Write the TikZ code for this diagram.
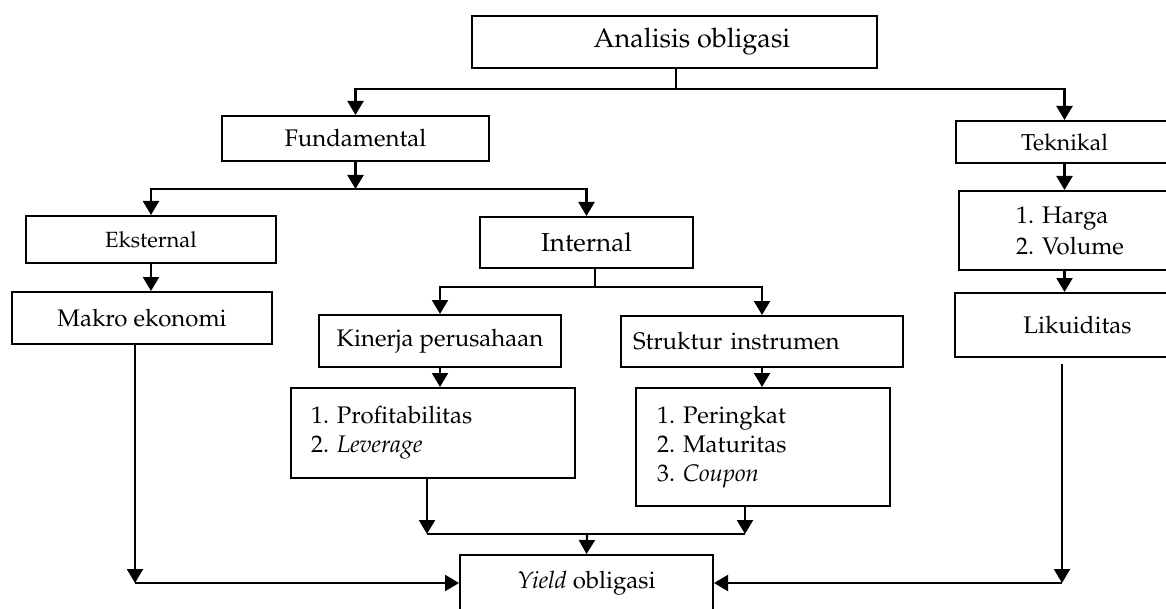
\documentclass[tikz,border=0pt]{standalone}
\usepackage[T1]{fontenc}
\usepackage{mathpazo}
\usetikzlibrary{positioning,arrows.meta}
\frenchspacing

\begin{document}
\begin{tikzpicture}[x=0.5pt,y=-0.5pt,
		kotak/.style={rectangle, draw=black, line width=1pt, inner sep=0pt, font=\fontsize{12}{14.5}\selectfont},
		panah/.style={line width=1.1pt, -{Triangle[width=8pt,length=7pt]}},
		garis/.style={line width=1pt}]
		\useasboundingbox (0,0) rectangle (1166,609);
		
		\node[kotak, font=\fontsize{13.5}{16}\selectfont, minimum width=202.5pt, minimum height=26pt] (analisis) at (674.5,42) {\hspace*{17.5pt}Analisis obligasi};
		\node[kotak, minimum width=133.5pt, minimum height=22.5pt] (fundamental) at (355.5,138.5) {Fundamental};
		\node[kotak, font=\fontsize{11.5}{14}\selectfont, minimum width=108.5pt, minimum height=21pt] (teknikal) at (1064.5,142) {Teknikal};
		\node[kotak, font=\fontsize{11}{13}\selectfont, minimum width=125pt, minimum height=23.5pt] (eksternal) at (151,239.5) {Eksternal};
		\node[kotak, font=\fontsize{13}{16}\selectfont, minimum width=106.5pt, minimum height=25.5pt] (internal) at (586.5,242.5) {Internal};
		\node[kotak, minimum width=130pt, minimum height=26pt] (makro) at (142,318) {Makro ekonomi};
		\node[kotak, minimum width=121pt, minimum height=26pt] (kinerja) at (440,341) {Kinerja perusahaan};
		\node[kotak, align=left, inner xsep=6pt, text width=129pt, minimum height=25.5pt] (struktur) at (762,341.5) {Struktur instrumen};
		\node[kotak, align=left, inner xsep=10pt, text width=122pt, minimum height=45pt] (profit) at (433,433) {1. Profitabilitas\\2. \textit{Leverage}};
		\node[kotak, align=left, inner xsep=10.5pt, text width=106pt, minimum height=59pt] (peringkat) at (763,447) {1. Peringkat\\2. Maturitas\\3. \textit{Coupon}};
		\node[kotak, align=left, inner xsep=28.5pt, text width=58.5pt, minimum height=39.5pt, font=\fontsize{12}{15.5}\selectfont] (harga) at (1074.5,230.5) {1. Harga\\2. Volume};
		\node[kotak, minimum width=122.5pt, minimum height=32pt] (likuiditas) at (1077.5,325) {Likuiditas};
		\node[kotak, minimum width=126.5pt, minimum height=28pt] (yield) at (586.5,583) {\textit{Yield} obligasi};
		
		\coordinate (cabang1) at (676,89);
		\coordinate (cabang2) at (355.5,189);
		\coordinate (cabang3) at (595,287);
		\coordinate (gabungKiri) at (427,534);
		\coordinate (gabungKanan) at (745,534);
		\coordinate (gabung) at (587,534);
		\coordinate (sudutKiri) at (135,583);
		\coordinate (sudutKanan) at (1062,583);
		
		\draw[garis] (analisis.south -| cabang1) -- (cabang1);
		\draw[panah] (cabang1) -| (fundamental.north);
		\draw[panah] (cabang1) -| (teknikal.north);
		\draw[panah] (fundamental.south) -- (cabang2);
		\draw[panah] (cabang2) -| (eksternal.north);
		\draw[panah] (cabang2) -| (internal.north);
		\draw[panah] (eksternal.south) -- (eksternal.south |- makro.north);
		\draw[garis] (internal.south -| cabang3) -- (cabang3);
		\draw[panah] (cabang3) -| (kinerja.north);
		\draw[panah] (cabang3) -| (struktur.north);
		\draw[panah] (kinerja.south) -- (kinerja.south |- profit.north);
		\draw[panah] (struktur.south) -- (struktur.south |- peringkat.north);
		\draw[panah] (profit.south -| gabungKiri) -- (gabungKiri);
		\draw[panah] (peringkat.south -| gabungKanan) -- (gabungKanan);
		\draw[garis] (gabungKiri) -- (gabungKanan);
		\draw[panah] (gabung) -- (yield.north);
		\draw[panah] (makro.south -| sudutKiri) -- (sudutKiri);
		\draw[panah] (sudutKiri) -- (yield.west);
		\draw[panah] (teknikal.south) -- (teknikal.south |- harga.north);
		\draw[panah] (harga.south -| teknikal.south) -- (teknikal.south |- likuiditas.north);
		\draw[panah, shorten <=3pt] (likuiditas.south -| sudutKanan) -- (sudutKanan);
		\draw[panah] (sudutKanan) -- (yield.east);
	\end{tikzpicture}
\end{document}
